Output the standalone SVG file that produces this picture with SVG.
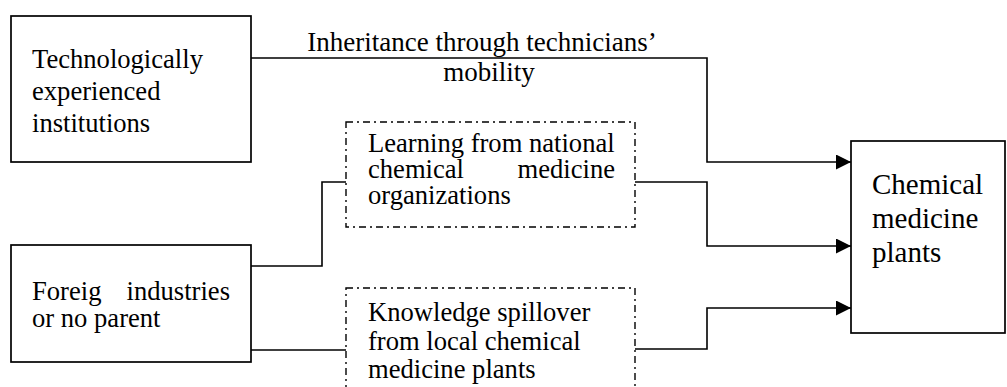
<svg xmlns="http://www.w3.org/2000/svg" width="1007" height="387" viewBox="0 0 1007 387">
  <style>
    text { font-family: "Liberation Serif", "Times New Roman", serif; font-size: 26.6px; fill: #000; }
    .box { fill: #fff; stroke: #000; stroke-width: 1.7; }
    .dash { fill: none; stroke: #000; stroke-width: 1.4; stroke-dasharray: 7 4 2 4; }
    .wire { fill: none; stroke: #000; stroke-width: 1.6; }
    .label { font-size: 27px; }
    .big { font-size: 29px; }
  </style>
  <defs>
    <marker id="arrow" markerUnits="userSpaceOnUse" markerWidth="16" markerHeight="16" refX="15" refY="7.5" orient="auto">
      <path d="M0,0 L15,7.5 L0,15 Z" fill="#000"/>
    </marker>
  </defs>
  <rect width="1007" height="387" fill="#fff"/>

  <g id="connectors">
    <path class="wire" d="M251,58 H707 V162 H851" marker-end="url(#arrow)"/>
    <path class="wire" d="M251,266 H322 V182 H346"/>
    <path class="wire" d="M635,182 H707 V246 H851" marker-end="url(#arrow)"/>
    <path class="wire" d="M251,350 H346"/>
    <path class="wire" d="M635,349 H707 V308 H851" marker-end="url(#arrow)"/>
    <text class="label" x="482" y="51" text-anchor="middle">Inheritance through technicians’</text>
    <text class="label" x="489" y="81" text-anchor="middle">mobility</text>
  </g>

  <g id="tech-institutions">
    <rect class="box" x="11" y="16" width="240" height="146"/>
    <text x="32" y="68">Technologically</text>
    <text x="32" y="100">experienced</text>
    <text x="32" y="132">institutions</text>
  </g>

  <g id="foreign-industries">
    <rect class="box" x="11" y="245" width="240" height="117"/>
    <text x="32" y="300">Foreig</text>
    <text x="230" y="300" text-anchor="end">industries</text>
    <text x="32" y="327">or no parent</text>
  </g>

  <g id="learning">
    <rect class="dash" x="346" y="122" width="289" height="105"/>
    <text x="368" y="152">Learning from national</text>
    <text x="368" y="178">chemical</text>
    <text x="615" y="178" text-anchor="end">medicine</text>
    <text x="368" y="204">organizations</text>
  </g>

  <g id="spillover">
    <rect class="dash" x="346" y="288" width="289" height="120"/>
    <text x="368" y="321">Knowledge spillover</text>
    <text x="368" y="350">from local chemical</text>
    <text x="368" y="378">medicine plants</text>
  </g>

  <g id="chemical-plants">
    <rect class="box" x="851" y="141" width="154" height="192"/>
    <text class="big" x="872" y="194">Chemical</text>
    <text class="big" x="872" y="228">medicine</text>
    <text class="big" x="872" y="262">plants</text>
  </g>
</svg>
